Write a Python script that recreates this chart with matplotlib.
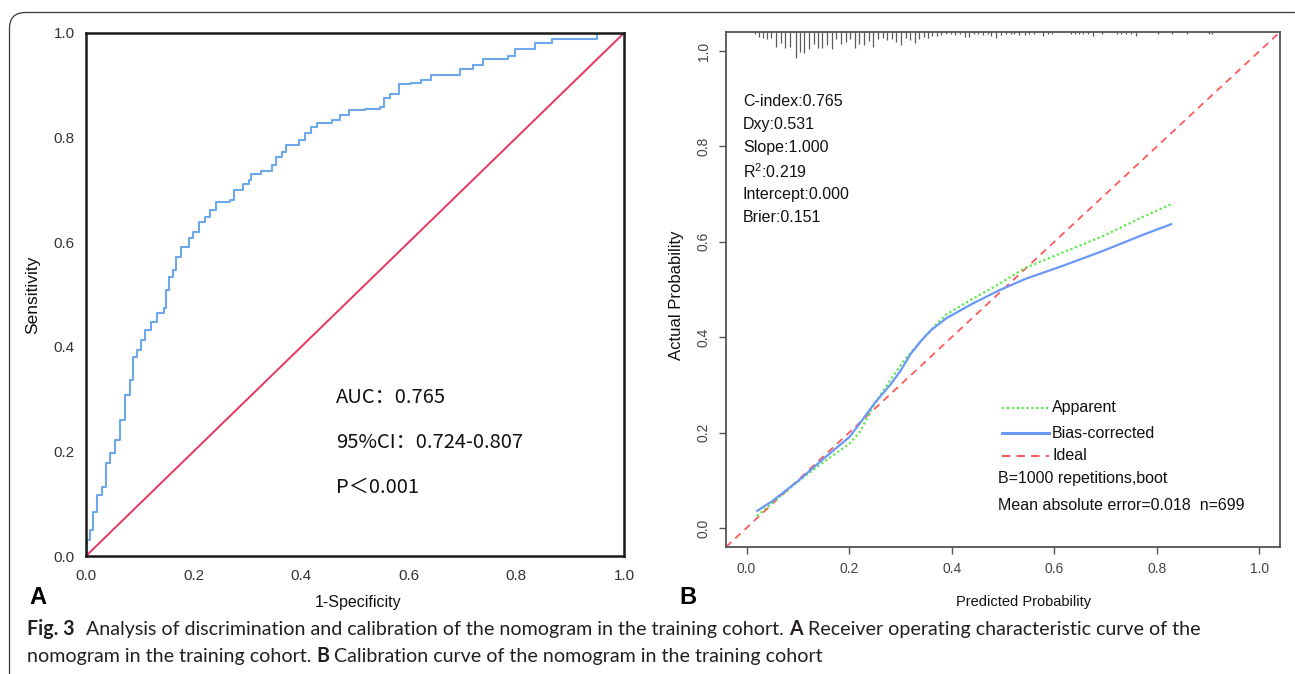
import numpy as np
import matplotlib
matplotlib.use('Agg')
import matplotlib.pyplot as plt
from matplotlib import font_manager
from matplotlib.patches import FancyBboxPatch

W, H = 1295, 674

# ROC curve (1-specificity, sensitivity)
roc_fpr = [0.0, 0.002, 0.008, 0.013, 0.021, 0.029, 0.037, 0.044, 0.054, 0.064,
           0.072, 0.081, 0.087, 0.095, 0.102, 0.11, 0.121, 0.132, 0.145, 0.149,
           0.155, 0.162, 0.168, 0.177, 0.191, 0.199, 0.21, 0.222, 0.23, 0.241,
           0.268, 0.276, 0.291, 0.303, 0.307, 0.326, 0.345, 0.353, 0.365, 0.372,
           0.395, 0.407, 0.418, 0.43, 0.457, 0.473, 0.488, 0.519, 0.546, 0.553,
           0.565, 0.582, 0.605, 0.623, 0.642, 0.696, 0.72, 0.738, 0.785, 0.797,
           0.835, 0.866, 0.92, 0.95, 1.0]
roc_tpr = [0.0, 0.031, 0.05, 0.085, 0.117, 0.132, 0.178, 0.197, 0.222, 0.26,
           0.308, 0.336, 0.381, 0.394, 0.413, 0.432, 0.448, 0.464, 0.474, 0.509,
           0.534, 0.547, 0.572, 0.59, 0.608, 0.62, 0.639, 0.649, 0.662, 0.676,
           0.681, 0.70, 0.711, 0.719, 0.73, 0.737, 0.748, 0.762, 0.773, 0.785,
           0.795, 0.808, 0.821, 0.828, 0.834, 0.843, 0.853, 0.855, 0.859, 0.876,
           0.883, 0.902, 0.905, 0.91, 0.92, 0.931, 0.939, 0.95, 0.956, 0.969,
           0.981, 0.988, 0.988, 1.0, 1.0]
roc_labels = ["AUC：0.765", "95%CI：0.724-0.807", "P＜0.001"]

# calibration curves
app_x = [0.02, 0.05, 0.10, 0.15, 0.20, 0.22, 0.25, 0.28, 0.31, 0.34, 0.37,
         0.39, 0.44, 0.49, 0.543, 0.615, 0.695, 0.776, 0.828]
app_y = [0.025, 0.052, 0.097, 0.138, 0.176, 0.20, 0.26, 0.31, 0.355, 0.392,
         0.427, 0.448, 0.48, 0.51, 0.545, 0.577, 0.612, 0.654, 0.679]
bc_x = [0.021, 0.05, 0.10, 0.15, 0.20, 0.22, 0.25, 0.28, 0.30, 0.32, 0.34,
        0.36, 0.39, 0.44, 0.49, 0.543, 0.615, 0.695, 0.776, 0.828]
bc_y = [0.036, 0.056, 0.098, 0.145, 0.19, 0.218, 0.262, 0.30, 0.329, 0.365,
        0.392, 0.415, 0.44, 0.47, 0.497, 0.522, 0.549, 0.581, 0.616, 0.637]

# distribution of predicted risk (rug at the top)
rug_x = [0.016, 0.024, 0.032, 0.040, 0.048, 0.058, 0.067, 0.075, 0.084, 0.096,
         0.104, 0.112, 0.122, 0.131, 0.140, 0.147, 0.157, 0.167, 0.175, 0.184,
         0.193, 0.202, 0.211, 0.219, 0.229, 0.239, 0.247, 0.256, 0.266, 0.274,
         0.283, 0.292, 0.301, 0.310, 0.318, 0.328, 0.336, 0.346, 0.354, 0.362,
         0.372, 0.380, 0.389, 0.398, 0.406, 0.416, 0.425, 0.433, 0.443, 0.451,
         0.461, 0.470, 0.477, 0.487, 0.497, 0.505, 0.515, 0.522, 0.531, 0.542,
         0.550, 0.560, 0.578, 0.587, 0.596, 0.632, 0.640, 0.648, 0.656, 0.665,
         0.676, 0.693, 0.722, 0.731, 0.739, 0.749, 0.759, 0.802, 0.829, 0.858,
         0.901, 0.908]
rug_n = [1.7, 5, 6.3, 7.3, 5.7, 15, 10.7, 15.7, 15, 25.7,
         19.7, 20.7, 17.3, 12.3, 16.3, 15.7, 13, 17.3, 7.3, 11.7,
         9.7, 7.3, 16.3, 12.3, 13, 9, 15, 7.3, 5.7, 8.3,
         7.3, 9.7, 13, 6.3, 8.3, 10.7, 7.3, 5, 5.7, 4,
         4, 3, 2.3, 2.3, 3, 1.7, 5, 5, 2.3, 1.7,
         3, 2.3, 4, 6.3, 3, 2.3, 1.7, 2.3, 3, 3,
         2.3, 2.3, 4, 2.3, 2.3, 2.3, 2.3, 2.3, 2.3, 2,
         4, 2, 2, 2.3, 2, 2, 4, 2, 2, 2,
         2, 2]

cal_stats = ["C-index:0.765", "Dxy:0.531", "Slope:1.000", r"R$^{2}$:0.219",
             "Intercept:0.000", "Brier:0.151"]
legend_names = ["Apparent", "Bias-corrected", "Ideal"]
cal_notes = ["B=1000 repetitions,boot", "Mean absolute error=0.018  n=699"]
ticks = [0.0, 0.2, 0.4, 0.6, 0.8, 1.0]

names = {f.name for f in font_manager.fontManager.ttflist}
narrow = 'Liberation Sans Narrow' if 'Liberation Sans Narrow' in names else None
plt.rcParams['font.family'] = ['Liberation Sans', 'DejaVu Sans']
plt.rcParams['mathtext.fontset'] = 'custom'
plt.rcParams['mathtext.rm'] = 'Liberation Sans'
plt.rcParams['mathtext.it'] = 'Liberation Sans'

fig = plt.figure(figsize=(W / 100, H / 100), dpi=100)

# background layer in pixel units (frame, captions, panel letters)
bg = fig.add_axes([0, 0, 1, 1], zorder=-1)
bg.set_xlim(0, W)
bg.set_ylim(H, 0)
bg.axis('off')
bg.add_patch(FancyBboxPatch((9.5, 12.5), 1300, 720,
                            boxstyle='round,pad=0,rounding_size=16',
                            fc='none', ec='#3a3a3a', lw=0.9))

# ---------- panel A: ROC ----------
ax1 = fig.add_axes([86 / W, 1 - 556 / H, 538 / W, 523 / H])
ax1.plot(roc_fpr, roc_tpr, drawstyle='steps-post', color='#6fa8ea', lw=1.5)
ax1.plot([0, 1], [0, 1], color='#e8365d', lw=1.4)
ax1.set_xlim(0, 1)
ax1.set_ylim(0, 1)
ax1.set_xticks(ticks)
ax1.set_yticks(ticks)
ax1.set_xticklabels([f"{t:.1f}" for t in ticks])
ax1.set_yticklabels([f"{t:.1f}" for t in ticks])
ax1.tick_params(length=0, labelsize=11, labelcolor='#333333')
ax1.tick_params(axis='x', pad=9)
ax1.tick_params(axis='y', pad=8)
for s in ax1.spines.values():
    s.set_linewidth(1.8)
    s.set_color('#1a1a1a')
for i, lab in enumerate(roc_labels):
    ax1.text(0.465, 0.304 - i * 0.086, lab, fontsize=14.5, va='center',
             family=['Noto Sans CJK SC', 'DejaVu Sans'], color='#111111')

if narrow:
    bg.text(358, 602, "1-Specificity", fontsize=13, ha='center', va='center',
            family=narrow, color='#111111')
else:
    bg.text(358, 602, "1-Specificity", fontsize=11.5, ha='center', va='center',
            color='#111111')
bg.text(33, 295, "Sensitivity", fontsize=12.5, ha='center', va='center',
        rotation=90, color='#111111')
bg.text(38, 597, "A", fontsize=17, fontweight='bold', ha='center', va='center')

# ---------- panel B: calibration ----------
ax2 = fig.add_axes([726 / W, 1 - 547 / H, 554 / W, 515 / H])
lim = (-0.04, 1.04)
ax2.set_xlim(lim)
ax2.set_ylim(lim)
ax2.plot(lim, lim, color='#ff5a5a', lw=1.3, ls=(0, (4, 3)))
ax2.plot(app_x, app_y, color='#5ae84a', lw=1.6, ls=(0, (1, 1.2)))
ax2.plot(bc_x, bc_y, color='#6a98f6', lw=1.6)
rug_scale = 0.05 * (lim[1] - lim[0]) / max(rug_n)
ax2.vlines(rug_x, lim[1] - np.array(rug_n) * rug_scale, lim[1],
           color='#5a5a5a', lw=0.9)
ax2.set_xticks(ticks)
ax2.set_yticks(ticks)
ax2.set_xticklabels([f"{t:.1f}" for t in ticks])
ax2.set_yticklabels([f"{t:.1f}" for t in ticks], rotation=90, va='center')
ax2.tick_params(direction='out', length=5, width=1, color='#555555',
                labelsize=10, labelcolor='#444444', pad=6)
for s in ax2.spines.values():
    s.set_linewidth(1.3)
    s.set_color('#555555')
for i, lab in enumerate(cal_stats):
    ax2.text(-0.007, 0.895 - i * 0.049, lab, fontsize=11.5, va='center',
             color='#111111')

leg_y = [0.252, 0.199, 0.151]
leg_style = [dict(color='#5ae84a', lw=1.6, ls=(0, (1, 1.2))),
             dict(color='#6a98f6', lw=2.2),
             dict(color='#ff5a5a', lw=1.5, ls=(0, (4, 3)))]
for y, name, st in zip(leg_y, legend_names, leg_style):
    ax2.plot([0.499, 0.589], [y, y], **st)
    ax2.text(0.596, y, name, fontsize=11.5, va='center', color='#111111')
for y, note in zip([0.103, 0.046], cal_notes):
    ax2.text(0.491, y, note, fontsize=11.5, va='center', color='#111111')

if narrow:
    bg.text(1024, 602, "Predicted Probability", fontsize=12, ha='center',
            va='center', family=narrow, color='#111111')
else:
    bg.text(1024, 602, "Predicted Probability", fontsize=10.5, ha='center',
            va='center', color='#111111')
bg.text(677, 295, "Actual Probability", fontsize=12, ha='center', va='center',
        rotation=90, color='#111111')
bg.text(688, 597, "B", fontsize=17, fontweight='bold', ha='center', va='center')

# ---------- caption ----------
renderer = fig.canvas.get_renderer()
cap_font = ['Lato', 'DejaVu Sans']
cap_size = 14.1


def rich_line(parts, x, y):
    for gap, s, w in parts:
        x += gap
        t = bg.text(x, y, s, fontsize=cap_size, fontweight=w, family=cap_font,
                    va='baseline', color='#231f20')
        x += t.get_window_extent(renderer).width


sp = 5
rich_line([(0, "Fig. 3", 'bold'),
           (12, "Analysis of discrimination and calibration of the nomogram in the training cohort.", 'normal'),
           (sp, "A", 'bold'),
           (sp, "Receiver operating characteristic curve of the", 'normal')],
          27, 635)
rich_line([(0, "nomogram in the training cohort.", 'normal'),
           (sp, "B", 'bold'),
           (sp, "Calibration curve of the nomogram in the training cohort", 'normal')],
          27, 662)

fig.savefig('out.png', dpi=100)
